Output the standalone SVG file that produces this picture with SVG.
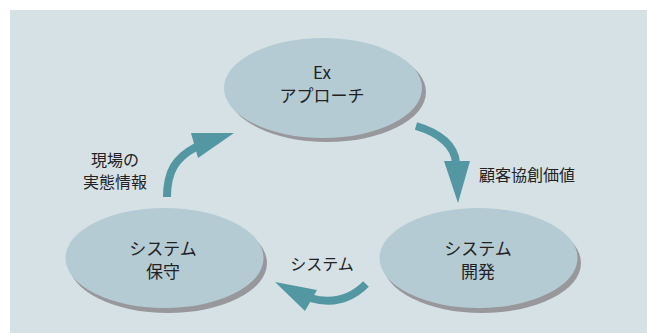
<svg xmlns="http://www.w3.org/2000/svg" width="647" height="333" viewBox="0 0 647 333">
<style>
.sh{fill:#98989c}
.el{fill:#b4cbd3}
.t{font-family:"Noto Sans CJK JP","Noto Sans",sans-serif;font-size:17px;fill:#222;text-anchor:middle}
.l{font-family:"Noto Sans CJK JP","Noto Sans",sans-serif;font-size:16px;fill:#222}
.band{fill:none;stroke:#5297a2;stroke-width:8}
.head{fill:#5297a2}
</style>
<rect x="0" y="0" width="647" height="333" fill="#ffffff"/>
<rect x="10" y="10" width="637" height="323" fill="#d6e1e6"/>
<g id="node-ex">
<ellipse class="sh" cx="327" cy="92" rx="99" ry="50"/>
<ellipse class="el" cx="323" cy="88" rx="99" ry="50"/>
<text class="t" x="322" y="79">Ex</text>
<text class="t" x="322" y="102">アプローチ</text>
</g>
<g id="node-maintenance">
<ellipse class="sh" cx="168" cy="263" rx="99" ry="50"/>
<ellipse class="el" cx="164.5" cy="258" rx="99" ry="50"/>
<text class="t" x="163" y="255">システム</text>
<text class="t" x="163" y="278">保守</text>
</g>
<g id="node-dev">
<ellipse class="sh" cx="482" cy="263" rx="99" ry="50"/>
<ellipse class="el" cx="478.5" cy="258" rx="99" ry="50"/>
<text class="t" x="478" y="255">システム</text>
<text class="t" x="478" y="278">開発</text>
</g>
<g id="connectors">
<path class="band" d="M416,126 C440,133 455,146 456,163"/>
<polygon class="head" points="444,161 470,161 458,203"/>
<path class="band" d="M167,197 C167,172 175,158 196,147"/>
<polygon class="head" points="191,133 234,133 198,158"/>
<path class="band" d="M366,284 C352,298 334,305 310,298"/>
<polygon class="head" points="275,282 317,290 305,311"/>
</g>
<g id="labels">
<text class="l" x="115" y="166" text-anchor="middle">現場の</text>
<text class="l" x="115" y="188" text-anchor="middle">実態情報</text>
<text class="l" x="479" y="181">顧客協創価値</text>
<text class="l" x="322" y="270" text-anchor="middle">システム</text>
</g>
</svg>
